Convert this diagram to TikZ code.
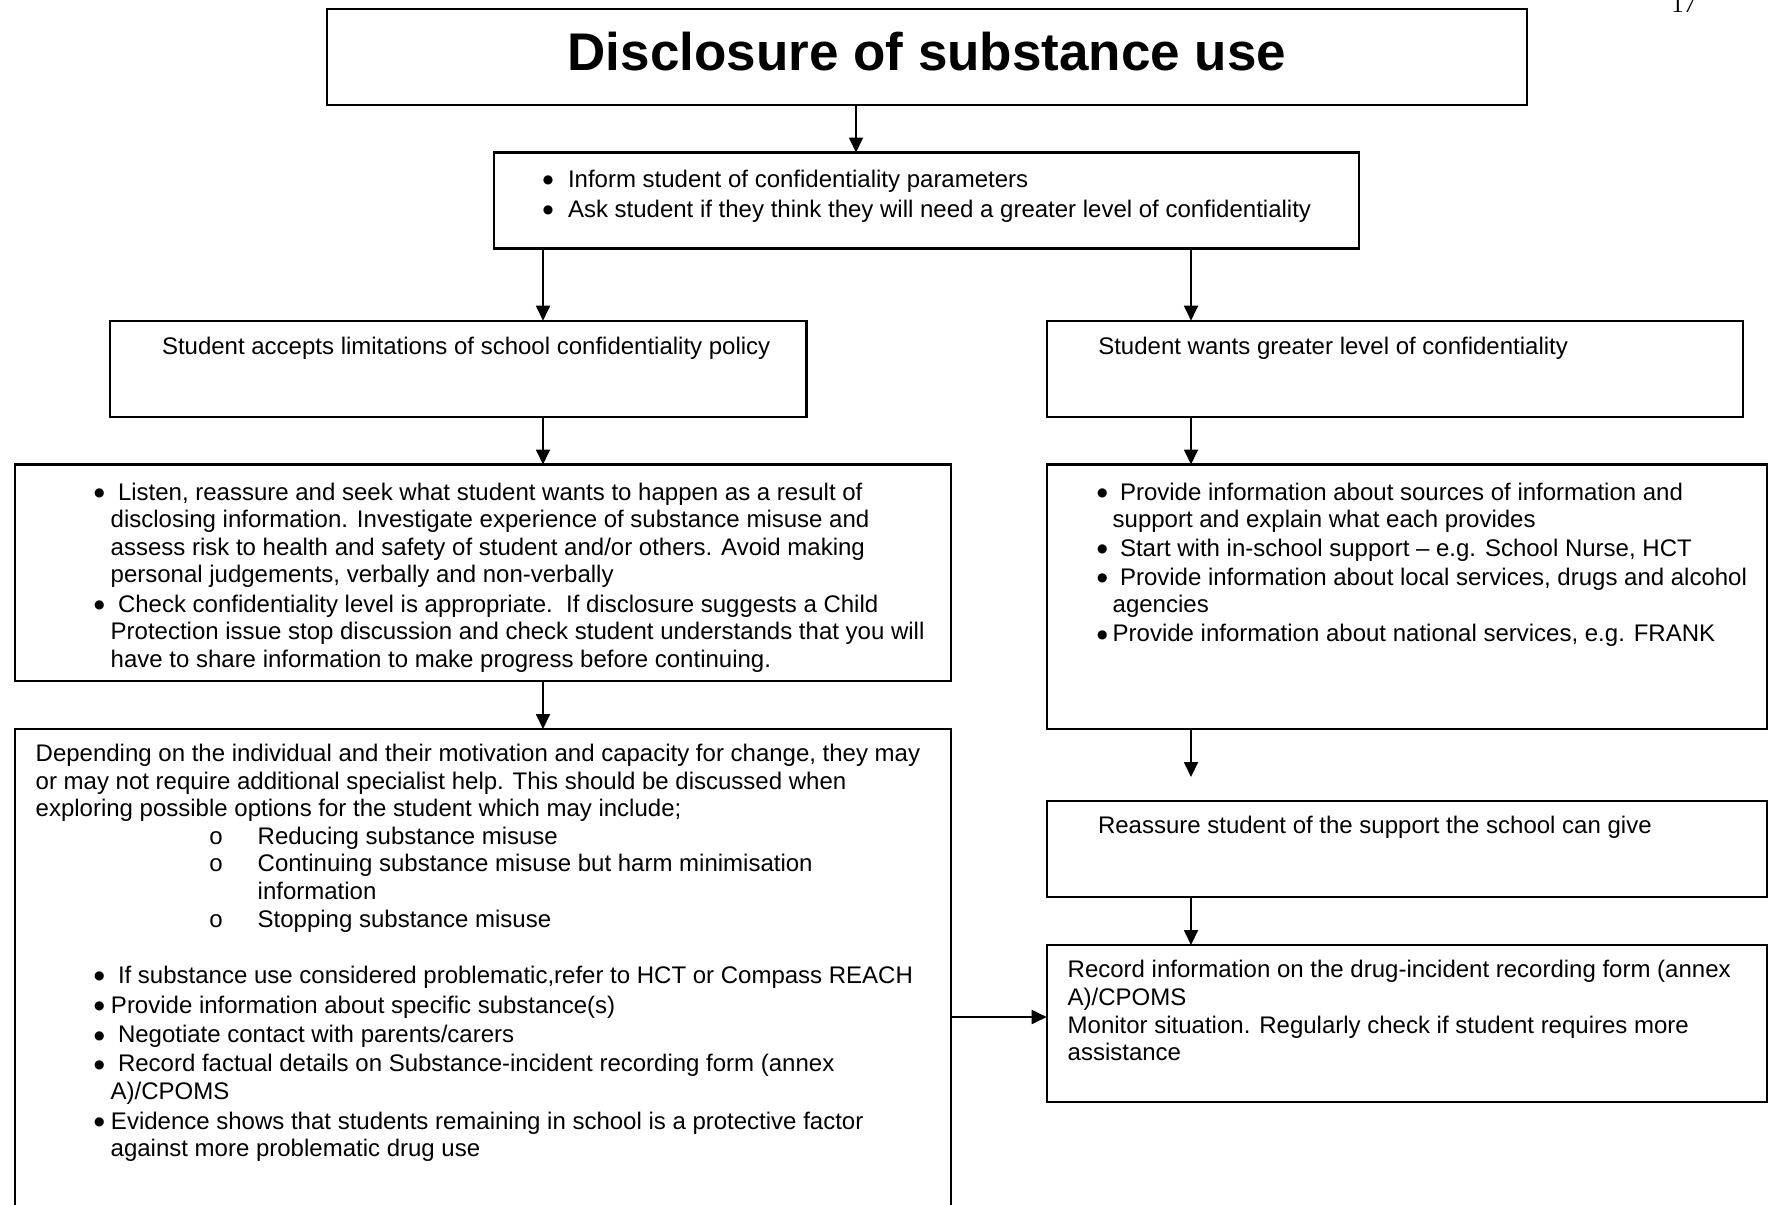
\documentclass[tikz,border=0pt]{standalone}
\usepackage{fontspec}
\setmainfont{Liberation Sans}
\newfontfamily\serifpg{Liberation Serif}
\newfontfamily\monof{Liberation Mono}
\newfontfamily\dejav{DejaVu Sans}
\usetikzlibrary{arrows.meta}
\newcommand\Bu[1]{\rlap{\hskip#1pt\makebox[0pt]{\raisebox{3.4pt}{\dejav\fontsize{12}{12}\selectfont ●}}}}
\newcommand\Ci[1]{\rlap{\hskip#1pt\makebox[0pt]{\monof o}}}
\newcommand\Ln[2]{\baselineskip=#1pt\relax\hbox{#2}}
\newcommand\Blk[1]{\vtop{\lineskiplimit=-1000pt\lineskip=0pt #1}}
\begin{document}
\begin{tikzpicture}[x=1pt,y=-1pt,
  box/.style={draw, line width=2.4pt, rectangle, inner sep=0pt, outer sep=0pt},
  txt/.style={inner sep=0pt, outer sep=0pt, anchor=base west, font=\fontsize{24}{27.5}\selectfont},
  arr/.style={line width=1.8pt, -{Triangle[length=15pt,width=14pt]}}]
\useasboundingbox (0,0) rectangle (1771,1204);

% page number
\node[inner sep=0pt, anchor=base, font=\serifpg\fontsize{24}{24}\selectfont] (pg) at (1683.5,13) {17};

% boxes
\node[box, minimum width=1200.3pt, minimum height=96pt] (title) at (926.85,57) {};
\node[box, minimum width=865pt, minimum height=95.8pt] (b2) at (926.5,200.4) {};
\node[box, minimum width=696.5pt, minimum height=96pt] (b3L) at (458.25,368.7) {};
\node[box, minimum width=696.3pt, minimum height=96pt] (b3R) at (1394.85,368.7) {};
\node[box, minimum width=936.3pt, minimum height=216.2pt] (b4L) at (482.85,572.6) {};
\node[box, minimum width=720.3pt, minimum height=264.5pt] (b4R) at (1406.85,596.75) {};
\node[box, minimum width=936.3pt, minimum height=511pt] (b5L) at (482.85,984.5) {};
\node[box, minimum width=720.3pt, minimum height=96pt] (b5R) at (1406.85,849) {};
\node[box, minimum width=720.3pt, minimum height=157pt] (b6R) at (1406.85,1023.5) {};

% texts
\node[inner sep=0pt, anchor=base, font=\fontsize{53}{60}\selectfont\bfseries] (ttl) at (927,71) {Disclosure of substance use};

\node[txt] (t2) at (494,187) {\Blk{%
\hbox{\Bu{54}\hskip74pt Inform student of confidentiality parameters}%
\Ln{30}{\Bu{54}\hskip74pt Ask student if they think they will need a greater level of confidentiality}}};

\node[txt] (t3L) at (110,354) {\hskip52pt Student accepts limitations of school confidentiality policy};
\node[txt] (t3R) at (1046.7,354) {\hskip51.6pt Student wants greater level of confidentiality};

\node[txt] (t4L) at (14.7,500) {\Blk{%
\hbox{\Bu{84.6}\hskip103.3pt Listen, reassure and seek what student wants to happen as a result of}%
\Ln{27}{\hskip96pt disclosing information. Investigate experience of substance misuse and}%
\Ln{28}{\hskip96pt assess risk to health and safety of student and/or others. Avoid making}%
\Ln{27.5}{\hskip96pt personal judgements, verbally and non-verbally}%
\Ln{29.5}{\Bu{84.6}\hskip103.3pt Check confidentiality level is appropriate.\ \ If disclosure suggests a Child}%
\Ln{27.5}{\hskip96pt Protection issue stop discussion and check student understands that you will}%
\Ln{27.5}{\hskip96pt have to share information to make progress before continuing.}}};

\node[txt] (t4R) at (1046.7,500) {\Blk{%
\hbox{\Bu{55.6}\hskip73.3pt Provide information about sources of information and}%
\Ln{27}{\hskip66pt support and explain what each provides}%
\Ln{29}{\Bu{55.6}\hskip73.3pt Start with in-school support – e.g. School Nurse, HCT}%
\Ln{29}{\Bu{55.6}\hskip73.3pt Provide information about local services, drugs and alcohol}%
\Ln{27.5}{\hskip66pt agencies}%
\Ln{29}{\Bu{55.6}\hskip66pt Provide information about national services, e.g. FRANK}}};

\node[txt] (t5L) at (14.7,761.7) {\Blk{%
\hbox{\hskip21pt Depending on the individual and their motivation and capacity for change, they may}%
\Ln{27.6}{\hskip21pt or may not require additional specialist help. This should be discussed when}%
\Ln{27.4}{\hskip21pt exploring possible options for the student which may include;}%
\Ln{27.3}{\Ci{201.3}\hskip243pt Reducing substance misuse}%
\Ln{27.7}{\Ci{201.3}\hskip243pt Continuing substance misuse but harm minimisation}%
\Ln{27.6}{\hskip243pt information}%
\Ln{28}{\Ci{201.3}\hskip243pt Stopping substance misuse}%
\Ln{56}{\Bu{84.6}\hskip103.3pt If substance use considered problematic,refer to HCT or Compass REACH}%
\Ln{30}{\Bu{84.6}\hskip96.3pt Provide information about specific substance(s)}%
\Ln{29.4}{\Bu{84.6}\hskip103.3pt Negotiate contact with parents/carers}%
\Ln{29}{\Bu{84.6}\hskip103.3pt Record factual details on Substance-incident recording form (annex}%
\Ln{27.6}{\hskip96pt A)/CPOMS}%
\Ln{29.7}{\Bu{84.6}\hskip96.3pt Evidence shows that students remaining in school is a protective factor}%
\Ln{27}{\hskip96pt against more problematic drug use}}};

\node[txt] (t5R) at (1046.7,833.5) {\hskip51.3pt Reassure student of the support the school can give};

\node[txt] (t6R) at (1046.7,977) {\Blk{%
\hbox{\hskip21pt Record information on the drug-incident recording form (annex}%
\Ln{28}{\hskip21pt A)/CPOMS}%
\Ln{28}{\hskip21pt Monitor situation. Regularly check if student requires more}%
\Ln{27}{\hskip21pt assistance}}};

% connector helpers
\coordinate (xT) at (856,0);
\coordinate (xL) at (543,0);
\coordinate (xR) at (1191,0);
\coordinate (hy) at (0,1017);
\coordinate (gapend) at (1191,777);

% connectors
\draw[arr] (title.south -| xT) -- (b2.north -| xT);
\draw[arr] (b2.south -| xL) -- (b3L.north -| xL);
\draw[arr] (b2.south -| xR) -- (b3R.north -| xR);
\draw[arr] (b3L.south -| xL) -- (b4L.north -| xL);
\draw[arr] (b3R.south -| xR) -- (b4R.north -| xR);
\draw[arr] (b4L.south -| xL) -- (b5L.north -| xL);
\draw[arr] (b4R.south -| xR) -- (gapend);
\draw[arr] (b5R.south -| xR) -- (b6R.north -| xR);
\draw[arr] (b5L.east |- hy) -- (b6R.west |- hy);
\end{tikzpicture}
\end{document}
